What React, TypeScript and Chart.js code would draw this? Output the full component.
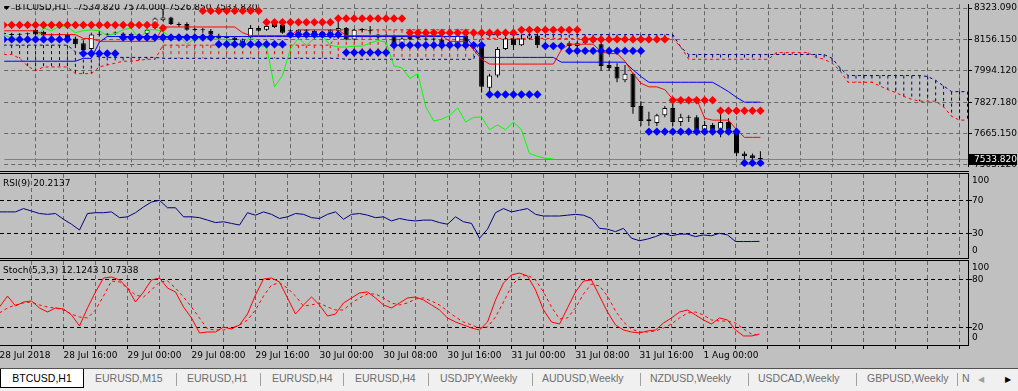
import React, { useEffect, useRef } from 'react';
import { Chart, registerables } from 'chart.js';

Chart.register(...registerables);

// ---------------- DATA ----------------
const openPrices = [
  8190, 8184, 8183, 8186, 8209, 8199, 8180, 8183, 8184, 8164,
  8139, 8109, 8183, 8185, 8190, 8190, 8182, 8169, 8189, 8219,
  8259, 8273, 8234, 8239, 8208, 8210, 8204, 8179, 8166, 8169,
  8144, 8169, 8219, 8209, 8244, 8234, 8202, 8194, 8206, 8204,
  8199, 8184, 8204, 8219, 8159, 8208, 8206, 8184, 8178, 8179,
  8134, 8179, 8179, 8160, 8158, 8159, 8144, 8119, 8179, 8134,
  8119, 7906, 7970, 8109, 8164, 8129, 8164, 8179, 8134, 8134,
  8122, 8139, 8124, 8139, 8169, 8134, 8025, 8015, 7945, 7980,
  7811, 7732, 7722, 7762, 7801, 7727, 7750, 7752, 7687, 7712,
  7692, 7727, 7687, 7563, 7553, 7534.82,
];
const highPrices = [
  8199, 8194, 8192, 8195, 8214, 8204, 8190, 8192, 8189, 8174,
  8154, 8194, 8204, 8193, 8200, 8196, 8190, 8188, 8214, 8273,
  8318, 8278, 8249, 8249, 8219, 8219, 8214, 8189, 8175, 8174,
  8164, 8234, 8229, 8239, 8259, 8239, 8212, 8214, 8214, 8209,
  8204, 8214, 8283, 8224, 8214, 8219, 8229, 8189, 8186, 8184,
  8169, 8186, 8186, 8169, 8166, 8166, 8149, 8184, 8189, 8144,
  8124, 7980, 8119, 8179, 8194, 8184, 8194, 8189, 8144, 8139,
  8134, 8149, 8149, 8164, 8174, 8144, 8045, 8035, 8025, 7985,
  7836, 7781, 7771, 7811, 7821, 7771, 7762, 7762, 7732, 7722,
  7771, 7747, 7697, 7573, 7563, 7574.0,
];
const lowPrices = [
  8179, 8174, 8176, 8178, 8179, 8174, 8172, 8176, 8154, 8114,
  8094, 8104, 8174, 8177, 8182, 8175, 8175, 8164, 8184, 8209,
  8254, 8234, 8224, 8204, 8199, 8194, 8179, 8154, 8158, 8149,
  8139, 8164, 8199, 8204, 8219, 8189, 8194, 8189, 8199, 8174,
  8184, 8179, 8199, 8154, 8154, 8199, 8184, 8164, 8172, 8124,
  8129, 8154, 8159, 8152, 8150, 8129, 8114, 8114, 8119, 8114,
  7881, 7886, 7960, 8104, 8104, 8124, 8159, 8114, 8109, 8109,
  8112, 8114, 8119, 8134, 8139, 7995, 7995, 7935, 7935, 7771,
  7707, 7707, 7707, 7752, 7707, 7707, 7727, 7682, 7672, 7682,
  7647, 7662, 7548, 7523, 7523, 7526.85,
];
const closePrices = [
  8187, 8182, 8185, 8188, 8184, 8179, 8182, 8181, 8159, 8134,
  8104, 8184, 8185, 8183, 8192, 8180, 8184, 8184, 8209, 8268,
  8273, 8239, 8238, 8209, 8210, 8207, 8184, 8164, 8168, 8154,
  8159, 8219, 8204, 8229, 8224, 8194, 8205, 8209, 8204, 8179,
  8189, 8209, 8219, 8159, 8209, 8210, 8201, 8169, 8180, 8134,
  8164, 8159, 8164, 8158, 8160, 8134, 8119, 8179, 8129, 8119,
  7911, 7970, 8109, 8164, 8129, 8164, 8179, 8129, 8119, 8119,
  8124, 8124, 8139, 8154, 8144, 8020, 8010, 7955, 7980, 7806,
  7732, 7742, 7762, 7801, 7727, 7752, 7753, 7687, 7712, 7687,
  7727, 7687, 7563, 7548, 7538, 7533.82,
];
const tenkanSen = [
  8204, 8204, 8204, 8204, 8204, 8184, 8184, 8184, 8184, 8184,
  8164, 8164, 8149, 8149, 8149, 8149, 8149, 8149, 8149, 8149,
  8224, 8224, 8224, 8224, 8224, 8224, 8224, 8224, 8224, 8224,
  8194, 8179, 8179, 8179, 8179, 8179, 8179, 8209, 8209, 8209,
  8209, 8209, 8209, 8179, 8179, 8179, 8179, 8179, 8179, 8179,
  8179, 8179, 8179, 8179, 8179, 8179, 8149, 8149, 8149, 8104,
  8055, 8030, 8030, 8030, 8030, 8030, 8030, 8030, 8030, 8030,
  8104, 8134, 8134, 8134, 8134, 8094, 8085, 8085, 8045, 7980,
  7930, 7911, 7911, 7896, 7846, 7846, 7846, 7846, 7747, 7737,
  7737, 7737, 7687, 7647, 7647, 7647,
];
const kijunSen = [
  8045, 8045, 8045, 8045, 8045, 8045, 8045, 8045, 8045, 8045,
  8060, 8060, 8144, 8174, 8174, 8174, 8174, 8174, 8174, 8174,
  8174, 8174, 8174, 8174, 8174, 8174, 8174, 8174, 8174, 8174,
  8174, 8174, 8174, 8174, 8174, 8174, 8174, 8174, 8174, 8174,
  8174, 8174, 8174, 8174, 8174, 8174, 8174, 8174, 8174, 8174,
  8174, 8174, 8174, 8174, 8174, 8174, 8174, 8174, 8174, 8119,
  8065, 8065, 8065, 8065, 8065, 8065, 8065, 8065, 8065, 8065,
  8040, 8040, 8040, 8040, 8040, 8040, 8040, 8040, 8040, 8000,
  7965, 7935, 7935, 7935, 7935, 7935, 7935, 7935, 7935, 7935,
  7911, 7886, 7856, 7831, 7831, 7831,
];
const senkouSpanA = [
  8080, 8080, 8060, 8020, 7995, 8015, 8015, 8015, 8015, 7980,
  7980, 7980, 8015, 8025, 8035, 8045, 8045, 8050, 8055, 8055,
  8129, 8129, 8129, 8129, 8129, 8129, 8129, 8129, 8129, 8129,
  8129, 8129, 8129, 8129, 8129, 8129, 8129, 8129, 8129, 8129,
  8129, 8129, 8209, 8209, 8209, 8209, 8209, 8209, 8209, 8209,
  8209, 8209, 8209, 8209, 8209, 8209, 8209, 8209, 8209, 8209,
  8164, 8164, 8164, 8164, 8164, 8164, 8164, 8164, 8164, 8164,
  8164, 8164, 8164, 8164, 8164, 8164, 8164, 8164, 8164, 8164,
  8164, 8164, 8164, 8164, 8164, 8119, 8055, 8055, 8055, 8055,
  8055, 8055, 8055, 8055, 8055, 8055, 8055, 8090, 8090, 8090,
  8090, 8090, 8065, 8055, 8035, 7995, 7935, 7935, 7935, 7935,
  7916, 7896, 7881, 7861, 7846, 7836, 7836, 7836, 7806, 7757,
  7737, 7737,
];
const senkouSpanB = [
  8129, 8129, 8129, 8129, 8129, 8129, 8129, 8129, 8129, 8094,
  8085, 8085, 8065, 8065, 8065, 8065, 8065, 8065, 8065, 8065,
  8060, 8060, 8060, 8060, 8060, 8060, 8060, 8060, 8060, 8060,
  8060, 8060, 8060, 8060, 8060, 8060, 8060, 8060, 8060, 8060,
  8060, 8060, 8060, 8055, 8055, 8055, 8055, 8055, 8055, 8055,
  8055, 8055, 8055, 8055, 8055, 8055, 8055, 8055, 8055, 8055,
  8184, 8184, 8184, 8184, 8184, 8184, 8184, 8184, 8184, 8184,
  8184, 8184, 8184, 8184, 8184, 8184, 8184, 8184, 8184, 8184,
  8184, 8184, 8184, 8184, 8184, 8119, 8080, 8080, 8080, 8080,
  8080, 8080, 8080, 8080, 8080, 8080, 8080, 8080, 8080, 8080,
  8080, 8080, 8080, 8080, 8060, 8010, 7970, 7970, 7970, 7970,
  7970, 7970, 7970, 7970, 7970, 7970, 7965, 7945, 7916, 7886,
  7886, 7886,
];
const resistanceLevels = [
  8234, 8234, 8234, 8234, 8234, 8234, 8234, 8234, 8234, 8234,
  8234, 8234, 8234, 8234, 8234, 8234, 8234, 8234, 8234, 8234,
  8219, null, null, null, null, 8308, 8308, 8308, 8308, 8308,
  8308, 8308, 8308, 8249, 8249, 8249, 8249, 8249, 8249, 8249,
  8249, 8249, 8268, 8268, 8268, 8268, 8268, 8268, 8268, 8268,
  8268, 8194, 8194, 8194, 8194, 8194, 8194, 8194, 8194, 8194,
  8194, 8194, 8194, 8194, 8194, 8209, 8209, 8209, 8209, 8209,
  8209, 8209, 8209, 8159, 8159, 8159, 8159, 8159, 8159, 8159,
  8159, 8159, 8159, 8159, 7841, 7841, 7841, 7841, 7841, 7841,
  7786, 7786, 7786, 7786, 7786, 7786,
];
const supportLevels = [
  8159, 8159, 8159, 8159, 8159, 8159, 8159, 8159, 8159, null,
  8085, 8085, 8085, 8085, 8085, 8169, 8169, 8169, 8169, 8169,
  8169, 8169, 8169, 8169, 8169, 8169, 8169, 8134, 8134, 8134,
  8134, 8134, 8134, 8134, 8134, 8134, 8184, 8184, 8184, 8184,
  8184, 8184, 8184, 8090, 8090, 8090, 8090, 8090, 8090, 8129,
  8129, 8129, 8129, 8129, 8129, 8129, 8129, 8129, 8129, 8129,
  8129, 7871, 7871, 7871, 7871, 7871, 7871, 7871, 8124, 8124,
  8124, 8099, 8099, 8099, 8099, 8099, 8099, 8099, 8099, 8099,
  8099, 7677, 7677, 7677, 7677, 7677, 7677, 7677, 7677, 7677,
  7677, 7677, 7677, 7513, 7513, 7513,
];
const rsiValues = [
  56, 56, 56, 60, 57, 54, 53, 54, 47, 41,
  34, 54, 55, 55, 56, 49, 50, 55, 62, 68,
  70, 61, 61, 50, 50, 49, 46, 43, 44, 42,
  40, 55, 52, 56, 53, 48, 50, 54, 53, 49,
  48, 53, 56, 47, 53, 54, 52, 49, 50, 45,
  48, 46, 45, 46, 46, 43, 41, 50, 44, 42,
  24, 35, 55, 60, 56, 58, 60, 53, 51, 51,
  51, 52, 53, 52, 48, 36, 35, 32, 36, 24,
  21, 23, 26, 30, 27, 29, 29, 26, 28, 27,
  30, 28, 20, 20, 20, 20.2137,
];
const stochMain = [
  45.7, 59.3, 46.9, 51.9, 53.1, 44.5, 39.5, 44.5, 43.2, 35.8,
  22.2, 44.5, 64.3, 81.6, 82.9, 79.2, 69.2, 51.9, 64.3, 79.2,
  81.6, 69.2, 64.3, 45.7, 32.1, 13.5, 14.7, 14.7, 20.9, 18.4,
  23.4, 37.0, 60.6, 80.4, 81.6, 76.7, 56.9, 37.0, 48.2, 58.1,
  48.2, 34.5, 37.0, 50.7, 56.9, 63.1, 64.3, 56.9, 48.2, 44.5,
  50.7, 56.9, 58.1, 54.4, 48.2, 42.0, 32.1, 27.1, 23.4, 19.7,
  17.2, 27.1, 54.4, 75.4, 85.4, 87.8, 84.1, 66.8, 42.0, 27.1,
  24.6, 44.5, 64.3, 77.9, 79.2, 59.3, 39.5, 23.4, 17.2, 14.7,
  13.5, 16.0, 17.2, 25.9, 32.1, 39.5, 42.0, 35.8, 29.6, 24.6,
  32.1, 29.6, 17.2, 9.8, 9.8, 12.1243,
];
const stochSignal = [
  38.3, 44.5, 48.2, 50.7, 51.9, 48.2, 45.7, 44.5, 42.0, 37.0,
  33.3, 32.1, 42.0, 59.3, 77.9, 76.7, 69.2, 60.6, 58.1, 66.8,
  76.7, 77.9, 69.2, 58.1, 45.7, 32.1, 18.4, 17.2, 17.2, 19.7,
  23.4, 29.6, 42.0, 59.3, 73.0, 75.4, 69.2, 59.3, 46.9, 48.2,
  50.7, 45.7, 42.0, 42.0, 50.7, 56.9, 61.8, 61.8, 56.9, 50.7,
  48.2, 50.7, 55.6, 56.9, 53.1, 48.2, 40.7, 33.3, 27.1, 23.4,
  19.7, 20.9, 33.3, 51.9, 71.7, 82.9, 85.4, 79.2, 64.3, 45.7,
  30.8, 32.1, 44.5, 61.8, 74.2, 71.7, 59.3, 40.7, 27.1, 18.4,
  14.7, 14.7, 16.0, 19.7, 24.6, 32.1, 38.3, 39.5, 35.8, 29.6,
  28.3, 28.3, 25.9, 18.4, 12.2, 10.7338,
];
const priceTicks = [8323.09, 8156.15, 7994.12, 7827.18, 7665.15, 7503.12];
const rsiLevels = [70, 30];
const rsiBounds = [100, 0];
const stochLevels = [80, 20];
const stochBounds = [100, 0];
const timeLabels = [
  '28 Jul 2018', '28 Jul 16:00', '29 Jul 00:00', '29 Jul 08:00', '29 Jul 16:00', '30 Jul 00:00',
  '30 Jul 08:00', '30 Jul 16:00', '31 Jul 00:00', '31 Jul 08:00', '31 Jul 16:00', '1 Aug 00:00',
];
const timeLabelBars = [0, 8, 16, 24, 32, 40, 48, 56, 64, 72, 80, 88];
const tabNames = [
  'BTCUSD,H1', 'EURUSD,M15', 'EURUSD,H1', 'EURUSD,H4', 'EURUSD,H4', 'USDJPY,Weekly',
  'AUDUSD,Weekly', 'NZDUSD,Weekly', 'USDCAD,Weekly', 'GBPUSD,Weekly', 'N',
];

// ---------------- LAYOUT / STYLE ----------------
const FONT = '"DejaVu Sans", sans-serif';
const GRID = '#666666';
const BG = '#C0C0C0';
const X_MIN = 0.0625;
const X_MAX = X_MIN + 121;
const gridBars = Array.from({ length: 30 }, (_, k) => 4 * (k + 1));
const tabLefts = [0, 95, 187, 272, 355, 440, 542, 650, 758, 867, 962];
const sepLefts = [176, 260, 343, 428, 532, 640, 748, 856, 957];

const xy = (arr: (number | null)[]) => arr.map((v, i) => ({ x: i, y: v }));

function xScale(withLabels: boolean): any {
  return {
    type: 'linear',
    min: X_MIN,
    max: X_MAX,
    offset: false,
    afterBuildTicks: (s: any) => {
      s.ticks = (withLabels ? [0, ...gridBars] : gridBars).map((v) => ({ value: v }));
    },
    afterFit: (s: any) => {
      s.height = withLabels ? 23 : 0;
      s.paddingLeft = 0;
      s.paddingRight = 0;
    },
    grid: { color: GRID, lineWidth: 1, drawTicks: withLabels, tickLength: 4, tickColor: '#000', offset: false },
    border: { display: withLabels, color: '#000', width: 1, dash: [4, 3] },
    ticks: withLabels
      ? {
          display: true,
          autoSkip: false,
          maxRotation: 0,
          minRotation: 0,
          align: 'start',
          padding: 1,
          color: '#000',
          font: { family: FONT, size: 9 },
          callback: (v: any) => {
            const k = timeLabelBars.indexOf(Number(v));
            return k >= 0 ? timeLabels[k] : '';
          },
        }
      : { display: false },
  };
}

function yScale(min: number, max: number, vals: number[], fmt: (v: number) => string, gridColor: string, pad: number): any {
  return {
    position: 'right',
    min,
    max,
    afterBuildTicks: (s: any) => {
      s.ticks = vals.map((v) => ({ value: v }));
    },
    afterFit: (s: any) => {
      s.width = 50;
      s.paddingTop = 0;
      s.paddingBottom = 0;
    },
    grid: { color: gridColor, lineWidth: 1, drawTicks: true, tickLength: 4, tickColor: '#000' },
    border: { display: true, color: '#000', width: 1, dash: [4, 3] },
    ticks: { autoSkip: false, padding: pad, color: '#000', font: { family: FONT, size: 9 }, callback: (v: any) => fmt(Number(v)) },
  };
}

const baseOptions = {
  animation: false,
  responsive: false,
  maintainAspectRatio: false,
  devicePixelRatio: 1,
  events: [],
  layout: { padding: 0 },
  plugins: { legend: { display: false }, tooltip: { enabled: false }, title: { display: false } },
};

function buildMain(canvas: HTMLCanvasElement) {
  const last = closePrices.length - 1;
  const chikou = closePrices.slice(26).map((v, i) => ({ x: i, y: v }));
  const decor = {
    id: 'mainDecor',
    beforeDatasetsDraw(chart: any) {
      const { ctx, chartArea: a, scales } = chart;
      const xs = scales.x;
      const ys = scales.y;
      ctx.save();
      ctx.beginPath();
      ctx.rect(a.left, a.top, a.right - a.left, a.bottom - a.top);
      ctx.clip();
      // cloud hatching
      ctx.lineWidth = 1;
      ctx.setLineDash([3, 3]);
      senkouSpanA.forEach((va, i) => {
        const vb = senkouSpanB[i];
        const px = xs.getPixelForValue(i);
        const ya = ys.getPixelForValue(va);
        const yb = ys.getPixelForValue(vb);
        ctx.strokeStyle = va >= vb ? '#FF0000' : '#000080';
        ctx.beginPath();
        ctx.moveTo(px, Math.min(ya, yb));
        ctx.lineTo(px, Math.max(ya, yb));
        ctx.stroke();
      });
      ctx.setLineDash([]);
      // current price line
      const yp = Math.round(ys.getPixelForValue(closePrices[last])) + 0.5;
      ctx.strokeStyle = '#808080';
      ctx.beginPath();
      ctx.moveTo(a.left, yp);
      ctx.lineTo(a.right, yp);
      ctx.stroke();
      // title
      ctx.fillStyle = '#000';
      ctx.beginPath();
      ctx.moveTo(3, 6);
      ctx.lineTo(10, 6);
      ctx.lineTo(6.5, 10);
      ctx.closePath();
      ctx.fill();
      ctx.font = `9px ${FONT}`;
      ctx.textBaseline = 'middle';
      ctx.textAlign = 'left';
      ctx.fillText('BTCUSD,H1', 15, 8);
      const ohlc = [openPrices[last], highPrices[last], lowPrices[last], closePrices[last]].map((v) => v.toFixed(3)).join(' ');
      ctx.fillText(ohlc, 77, 8);
      // shift marker
      ctx.fillStyle = '#808080';
      ctx.beginPath();
      ctx.moveTo(770, 0);
      ctx.lineTo(777, 0);
      ctx.lineTo(773.5, 4);
      ctx.closePath();
      ctx.fill();
      ctx.restore();
    },
    afterDraw(chart: any) {
      const { ctx, chartArea: a, scales } = chart;
      const yp = scales.y.getPixelForValue(closePrices[last]);
      ctx.save();
      ctx.fillStyle = '#000';
      ctx.fillRect(a.right + 1, Math.round(yp) - 5, 48, 11);
      ctx.fillStyle = '#FFF';
      ctx.font = `9px ${FONT}`;
      ctx.textBaseline = 'middle';
      ctx.textAlign = 'left';
      ctx.fillText(closePrices[last].toFixed(3), a.right + 6, Math.round(yp) + 0.5);
      ctx.restore();
    },
  };
  return new Chart(canvas, {
    type: 'line',
    data: {
      datasets: [
        { type: 'line', label: 'Resistance', data: xy(resistanceLevels), showLine: false, pointStyle: 'rectRot', pointRadius: 4.2, pointBackgroundColor: '#FF0000', pointBorderWidth: 0, order: 1 },
        { type: 'line', label: 'Support', data: xy(supportLevels), showLine: false, pointStyle: 'rectRot', pointRadius: 4.2, pointBackgroundColor: '#0000FF', pointBorderWidth: 0, order: 1 },
        { type: 'line', label: 'Tenkan-sen', data: xy(tenkanSen), borderColor: '#FF0000', borderWidth: 1, pointRadius: 0, order: 2 },
        { type: 'line', label: 'Kijun-sen', data: xy(kijunSen), borderColor: '#0000FF', borderWidth: 1, pointRadius: 0, order: 2 },
        { type: 'line', label: 'Chikou Span', data: chikou, borderColor: '#00FF00', borderWidth: 1, pointRadius: 0, order: 2 },
        { type: 'bar', label: 'Body', data: openPrices.map((o, i) => ({ x: i, y: [o, closePrices[i]] })), backgroundColor: openPrices.map((o, i) => (closePrices[i] >= o ? '#FFFFFF' : '#000000')), borderColor: '#000', borderWidth: 1, borderSkipped: false, barThickness: 5, maxBarThickness: 5, grouped: false, minBarLength: 1, inflateAmount: 0, order: 4 },
        { type: 'bar', label: 'Wick', data: lowPrices.map((l, i) => ({ x: i, y: [l, highPrices[i]] })), backgroundColor: '#000', borderWidth: 0, barThickness: 1, maxBarThickness: 1, grouped: false, inflateAmount: 0, order: 5 },
        { type: 'line', label: 'Senkou Span A', data: xy(senkouSpanA), borderColor: '#FF0000', borderWidth: 1, borderDash: [3, 3], pointRadius: 0, order: 6 },
        { type: 'line', label: 'Senkou Span B', data: xy(senkouSpanB), borderColor: '#000080', borderWidth: 1, borderDash: [3, 3], pointRadius: 0, order: 6 },
      ],
    } as any,
    options: {
      ...baseOptions,
      scales: {
        x: xScale(false),
        y: yScale(7493.2, 8343.0, priceTicks, (v) => v.toFixed(3), GRID, 2),
      },
    } as any,
    plugins: [decor],
  });
}

function panelDecor(title: string, bounds: number[]) {
  return {
    id: 'panelDecor',
    beforeDatasetsDraw(chart: any) {
      const { ctx } = chart;
      ctx.save();
      ctx.fillStyle = '#000';
      ctx.font = `9px ${FONT}`;
      ctx.textBaseline = 'middle';
      ctx.textAlign = 'left';
      ctx.fillText(title, 3, 10);
      ctx.restore();
    },
    afterDraw(chart: any) {
      const { ctx, chartArea: a, scales } = chart;
      ctx.save();
      ctx.fillStyle = '#000';
      ctx.font = `9px ${FONT}`;
      ctx.textBaseline = 'middle';
      ctx.textAlign = 'left';
      bounds.forEach((v) => {
        const py = Math.min(Math.max(scales.y.getPixelForValue(v), a.top + 7), a.bottom - 7);
        ctx.fillText(String(v), a.right + 4, py);
      });
      ctx.restore();
    },
  };
}

function buildRsi(canvas: HTMLCanvasElement) {
  const last = rsiValues.length - 1;
  return new Chart(canvas, {
    type: 'line',
    data: {
      datasets: [{ label: 'RSI(9)', data: xy(rsiValues), borderColor: '#000080', borderWidth: 1, pointRadius: 0 }],
    } as any,
    options: {
      ...baseOptions,
      scales: { x: xScale(false), y: yScale(0, 102, rsiLevels, (v) => String(v), '#000', 0) },
    } as any,
    plugins: [panelDecor(`RSI(9) ${rsiValues[last].toFixed(4)}`, rsiBounds)],
  });
}

function buildStoch(canvas: HTMLCanvasElement) {
  const last = stochMain.length - 1;
  return new Chart(canvas, {
    type: 'line',
    data: {
      datasets: [
        { label: 'Main', data: xy(stochMain), borderColor: '#FF0000', borderWidth: 1, pointRadius: 0 },
        { label: 'Signal', data: xy(stochSignal), borderColor: '#FF0000', borderWidth: 1, borderDash: [3, 3], pointRadius: 0 },
      ],
    } as any,
    options: {
      ...baseOptions,
      scales: { x: xScale(true), y: yScale(-1.4, 102.7, stochLevels, (v) => String(v), '#000', 0) },
    } as any,
    plugins: [panelDecor(`Stoch(5,3,3) ${stochMain[last].toFixed(4)} ${stochSignal[last].toFixed(4)}`, stochBounds)],
  });
}

export default function App() {
  const mainRef = useRef<HTMLCanvasElement>(null);
  const rsiRef = useRef<HTMLCanvasElement>(null);
  const stochRef = useRef<HTMLCanvasElement>(null);

  useEffect(() => {
    document.body.style.margin = '0';
    Chart.defaults.font.family = FONT;
    const charts = [buildMain(mainRef.current!), buildRsi(rsiRef.current!), buildStoch(stochRef.current!)];
    return () => charts.forEach((c) => c.destroy());
  }, []);

  const line = (top: number) => (
    <div style={{ position: 'absolute', left: 0, top, width: 969, height: 1, background: '#000' }} />
  );

  return (
    <div style={{ position: 'relative', width: 1018, height: 391, background: BG, overflow: 'hidden' }}>
      <style>{'body{margin:0}'}</style>
      <canvas ref={mainRef} width={1018} height={171} style={{ position: 'absolute', left: 0, top: 0, width: 1018, height: 171 }} />
      {line(171)}
      {line(173)}
      <canvas ref={rsiRef} width={1018} height={84} style={{ position: 'absolute', left: 0, top: 174, width: 1018, height: 84 }} />
      {line(258)}
      {line(260)}
      <canvas ref={stochRef} width={1018} height={107} style={{ position: 'absolute', left: 0, top: 261, width: 1018, height: 107 }} />
      <div
        style={{
          position: 'absolute', left: 0, top: 368, width: 1018, height: 23, background: '#F0F0F0',
          borderTop: '1px solid #505050', boxSizing: 'border-box',
          fontFamily: '"Liberation Sans", Arial, sans-serif', fontSize: 10.5,
        }}
      >
        <div style={{ position: 'absolute', left: 0, top: 0, width: 84, height: 19, background: '#FFF', borderLeft: '1px solid #000', borderRight: '1px solid #000', borderBottom: '1px solid #000', boxSizing: 'border-box' }} />
        {tabNames.map((name, k) => (
          <div
            key={k}
            style={{
              position: 'absolute', top: 2, left: tabLefts[k], width: k === 0 ? 84 : undefined,
              textAlign: k === 0 ? 'center' : 'left', lineHeight: '15px', whiteSpace: 'nowrap',
              color: k === 0 ? '#000' : '#6D6D6D',
            }}
          >
            {name}
          </div>
        ))}
        {sepLefts.map((l, k) => (
          <div key={'s' + k} style={{ position: 'absolute', left: l, top: 4, width: 1, height: 13, background: '#A0A0A0' }} />
        ))}
        <div style={{ position: 'absolute', left: 978, top: 3, fontSize: 8, color: '#A0A0A0', lineHeight: '15px' }}>◀</div>
        <div style={{ position: 'absolute', left: 1005, top: 3, fontSize: 8, color: '#000', lineHeight: '15px' }}>▶</div>
      </div>
    </div>
  );
}
